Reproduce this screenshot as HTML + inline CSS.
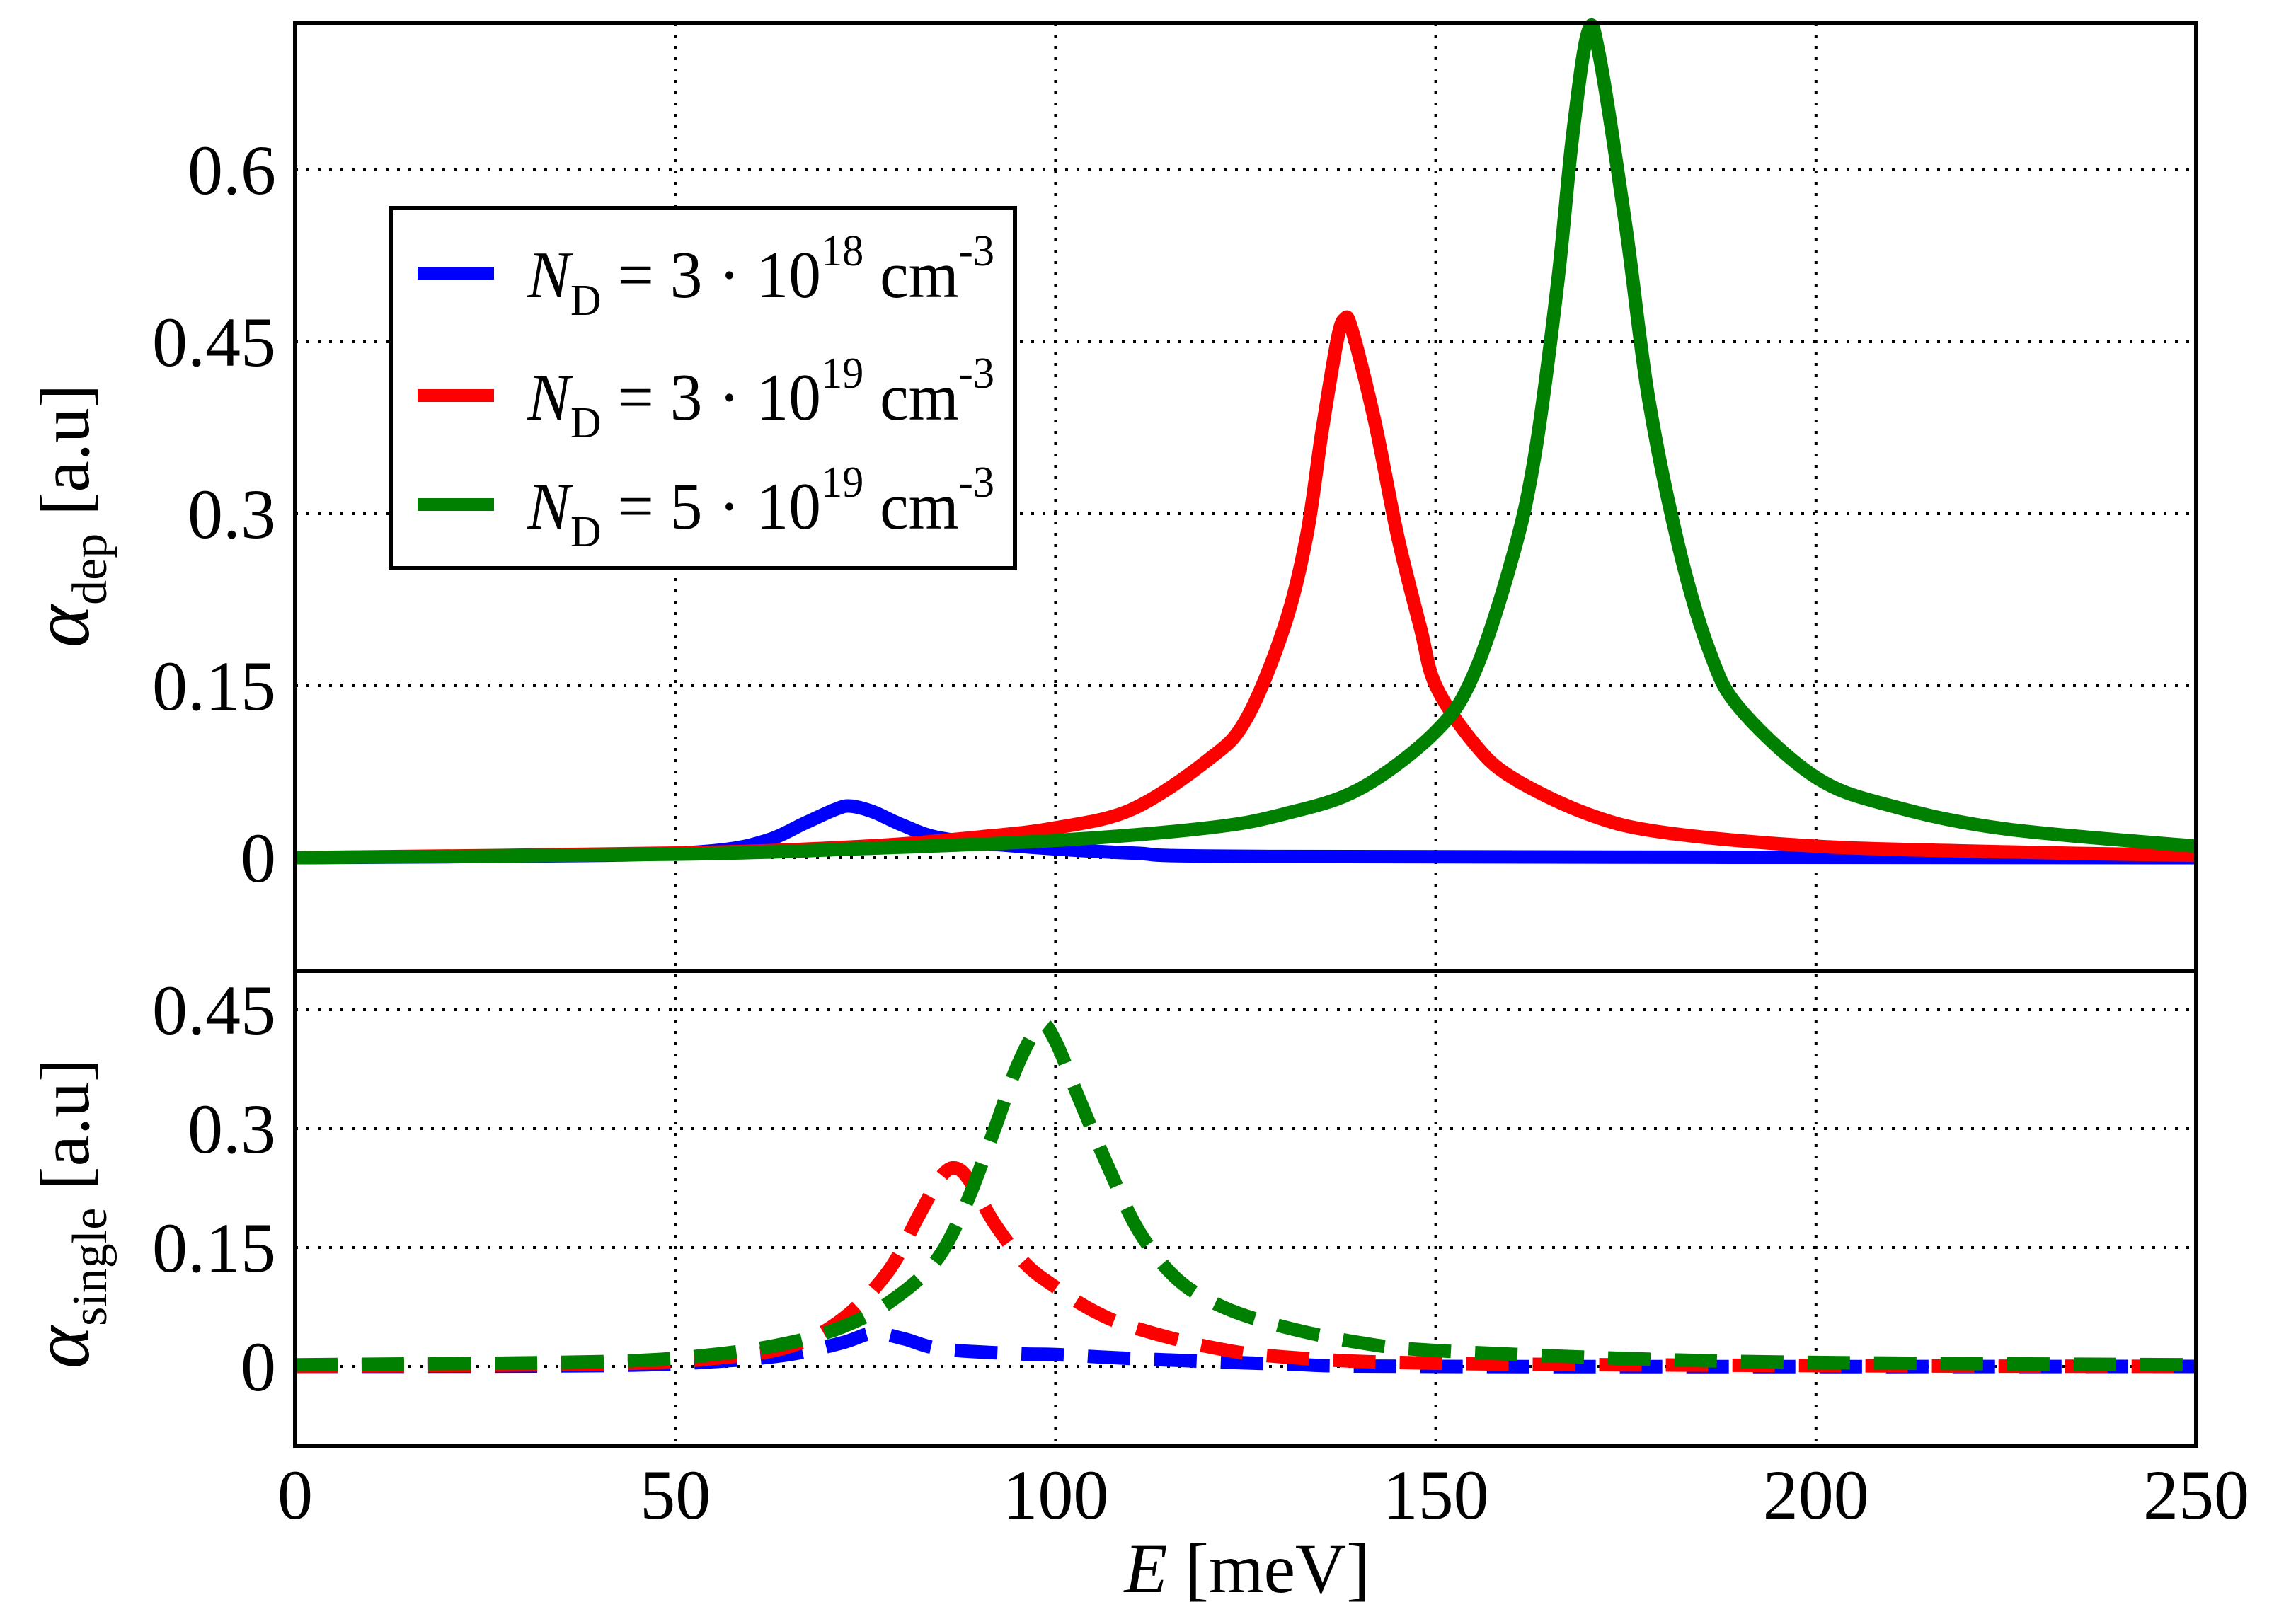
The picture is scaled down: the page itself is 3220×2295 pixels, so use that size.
<!DOCTYPE html>
<html><head><meta charset="utf-8"><style>
html,body{margin:0;padding:0;background:#fff}
svg{display:block}
text{font-family:"Liberation Serif",serif;fill:#000}
</style></head><body>
<svg id="chart" width="3220" height="2295" viewBox="0 0 3220 2295" xmlns="http://www.w3.org/2000/svg">
<g id="grid"></g>
<g id="series"></g>
<g id="axes"></g>
<g id="labels"></g>
</svg>
<script>
// ---- data ----
const xTicks = [0, 50, 100, 150, 200, 250];
const topYTicks = [0, 0.15, 0.3, 0.45, 0.6];
const topYTickLabels = ["0", "0.15", "0.3", "0.45", "0.6"];
const botYTicks = [0, 0.15, 0.3, 0.45];
const botYTickLabels = ["0", "0.15", "0.3", "0.45"];

const depBlueE = [0, 40, 55, 62, 67, 71, 73, 76, 80, 85, 95, 110, 130, 250];
const depBlueV = [0, 0.002, 0.006, 0.015, 0.03, 0.042, 0.045, 0.04, 0.028, 0.017, 0.01, 0.004, 0.001, 0];
const depRedE = [0, 50, 75, 90, 100, 110, 120, 125, 130, 133, 135, 137, 138, 139, 142, 145, 148, 150, 155, 160, 170, 180, 200, 225, 250];
const depRedV = [0, 0.004, 0.01, 0.018, 0.026, 0.042, 0.085, 0.12, 0.2, 0.28, 0.37, 0.45, 0.47, 0.46, 0.38, 0.28, 0.2, 0.15, 0.1, 0.07, 0.038, 0.022, 0.01, 0.005, 0.002];
const depGreenE = [0, 50, 75, 100, 120, 130, 140, 150, 155, 160, 163, 166, 168, 170, 171.5, 175, 178, 182, 186, 190, 200, 210, 225, 250];
const depGreenV = [0, 0.003, 0.008, 0.015, 0.026, 0.038, 0.06, 0.11, 0.16, 0.26, 0.35, 0.5, 0.63, 0.72, 0.7, 0.55, 0.4, 0.27, 0.18, 0.13, 0.07, 0.045, 0.025, 0.01];

const sinBlueE = [0, 40, 55, 65, 72, 76, 80, 85, 95, 100, 110, 130, 150, 250];
const sinBlueV = [0, 0.001, 0.006, 0.015, 0.03, 0.042, 0.035, 0.022, 0.016, 0.015, 0.01, 0.003, 0, 0];
const sinRedE = [0, 40, 55, 65, 72, 78, 82, 85, 87, 89, 92, 96, 100, 105, 110, 120, 130, 150, 200, 250];
const sinRedV = [0, 0.003, 0.01, 0.025, 0.06, 0.12, 0.19, 0.24, 0.25, 0.23, 0.18, 0.13, 0.1, 0.07, 0.05, 0.025, 0.012, 0.004, 0.001, 0];
const sinGreenE = [0, 40, 55, 65, 72, 78, 84, 88, 92, 95, 98, 100, 103, 107, 111, 116, 122, 130, 140, 150, 175, 200, 250];
const sinGreenV = [0.002, 0.006, 0.015, 0.03, 0.05, 0.08, 0.13, 0.2, 0.3, 0.38, 0.43, 0.41, 0.34, 0.25, 0.17, 0.11, 0.075, 0.05, 0.03, 0.02, 0.01, 0.005, 0.002];

// ---- layout ----
const L = 417, R = 3103, T = 33, MID = 1372, B = 2043;
const NS = "http://www.w3.org/2000/svg";
const xs = e => L + (e - 0) / 250 * (R - L);
const yTop = v => 1212 - v / 0.15 * 243;
const yBot = v => 1931 - v / 0.15 * 168;
function mk(tag, attrs, parent) {
  const el = document.createElementNS(NS, tag);
  for (const k in attrs) el.setAttribute(k, attrs[k]);
  parent.appendChild(el);
  return el;
}
const grid = document.getElementById('grid');
const series = document.getElementById('series');
const axes = document.getElementById('axes');
const labels = document.getElementById('labels');

xTicks.forEach(t => {
  if (t === 0 || t === 250) return;
  const l = mk('line', {x1: xs(t), x2: xs(t), y1: T, y2: B, stroke: '#000', 'stroke-width': 4, 'stroke-dasharray': '4 12'}, grid);
  
  
});
topYTicks.forEach(t => {
  const l = mk('line', {x1: L, x2: R, y1: yTop(t), y2: yTop(t), stroke: '#000', 'stroke-width': 4, 'stroke-dasharray': '4 12'}, grid);
  
  
});
botYTicks.forEach(t => {
  const l = mk('line', {x1: L, x2: R, y1: yBot(t), y2: yBot(t), stroke: '#000', 'stroke-width': 4, 'stroke-dasharray': '4 12'}, grid);
  
  
});

function path(E, V, ys, color, dashed, name) {
  const P = E.map((e, i) => [xs(e), ys(V[i])]);
  let d = 'M' + P[0][0].toFixed(1) + ' ' + P[0][1].toFixed(1);
  for (let i = 0; i < P.length - 1; i++) {
    const p0 = P[Math.max(0, i - 1)], p1 = P[i], p2 = P[i + 1], p3 = P[Math.min(P.length - 1, i + 2)];
    const c1x = p1[0] + (p2[0] - p0[0]) / 6, c1y = p1[1] + (p2[1] - p0[1]) / 6;
    const c2x = p2[0] - (p3[0] - p1[0]) / 6, c2y = p2[1] - (p3[1] - p1[1]) / 6;
    d += 'C' + c1x.toFixed(1) + ' ' + c1y.toFixed(1) + ' ' + c2x.toFixed(1) + ' ' + c2y.toFixed(1) + ' ' + p2[0].toFixed(1) + ' ' + p2[1].toFixed(1);
  }
  const attrs = {d: d, fill: 'none', stroke: color, 'stroke-width': 19, 'stroke-linejoin': 'round'};
  if (dashed) attrs['stroke-dasharray'] = '60 34';
  const p = mk('path', attrs, series);
  
  
}
path(depBlueE, depBlueV, yTop, '#0000ff', false, 'dep-series-3e18');
path(depRedE, depRedV, yTop, '#ff0000', false, 'dep-series-3e19');
path(depGreenE, depGreenV, yTop, '#008000', false, 'dep-series-5e19');
path(sinBlueE, sinBlueV, yBot, '#0000ff', true, 'single-series-3e18');
path(sinRedE, sinRedV, yBot, '#ff0000', true, 'single-series-3e19');
path(sinGreenE, sinGreenV, yBot, '#008000', true, 'single-series-5e19');

const f1 = mk('rect', {x: L, y: T, width: R - L, height: MID - T, fill: 'none', stroke: '#000', 'stroke-width': 6}, axes);


const f2 = mk('rect', {x: L, y: MID, width: R - L, height: B - MID, fill: 'none', stroke: '#000', 'stroke-width': 6}, axes);



topYTicks.forEach((t, i) => {
  const tx = mk('text', {x: 390, y: yTop(t) + 34, 'font-size': 100, 'text-anchor': 'end'}, labels);
  tx.textContent = topYTickLabels[i];
  
  
});
botYTicks.forEach((t, i) => {
  const tx = mk('text', {x: 390, y: yBot(t) + 34, 'font-size': 100, 'text-anchor': 'end'}, labels);
  tx.textContent = botYTickLabels[i];
  
  
});
xTicks.forEach(t => {
  const tx = mk('text', {x: xs(t), y: 2146, 'font-size': 100, 'text-anchor': 'middle'}, labels);
  tx.textContent = String(t);
  
  
});
</script>
<svg x="0" y="0" width="3220" height="2295" style="position:absolute;left:0;top:0" viewBox="0 0 3220 2295">
<text x="1762" y="2250" font-size="100" text-anchor="middle"><tspan font-style="italic">E</tspan> [meV]</text>
<text transform="translate(125,729) rotate(-90)" font-size="100" text-anchor="middle"><tspan font-style="italic" font-size="115">α</tspan><tspan font-size="70" dy="25">dep</tspan><tspan dy="-25"> [a.u]</tspan></text>
<text transform="translate(125,1715) rotate(-90)" font-size="100" text-anchor="middle"><tspan font-style="italic" font-size="115">α</tspan><tspan font-size="70" dy="25">single</tspan><tspan dy="-25"> [a.u]</tspan></text>
<rect x="552" y="294" width="882" height="509" fill="#fff" stroke="#000" stroke-width="6"/>
<g>
<line x1="590" x2="698" y1="386" y2="386" stroke="#0000ff" stroke-width="18"/>
<text x="745" y="420" font-size="94" textLength="660" lengthAdjust="spacingAndGlyphs"><tspan font-style="italic">N</tspan><tspan font-size="62" dy="25">D</tspan><tspan dy="-25"> = 3 · 10</tspan><tspan font-size="62" dy="-45">18</tspan><tspan dy="45"> cm</tspan><tspan font-size="62" dy="-45">-3</tspan></text>
</g>
<g>
<line x1="590" x2="698" y1="559" y2="559" stroke="#ff0000" stroke-width="18"/>
<text x="745" y="593" font-size="94" textLength="660" lengthAdjust="spacingAndGlyphs"><tspan font-style="italic">N</tspan><tspan font-size="62" dy="25">D</tspan><tspan dy="-25"> = 3 · 10</tspan><tspan font-size="62" dy="-45">19</tspan><tspan dy="45"> cm</tspan><tspan font-size="62" dy="-45">-3</tspan></text>
</g>
<g>
<line x1="590" x2="698" y1="713" y2="713" stroke="#008000" stroke-width="18"/>
<text x="745" y="747" font-size="94" textLength="660" lengthAdjust="spacingAndGlyphs"><tspan font-style="italic">N</tspan><tspan font-size="62" dy="25">D</tspan><tspan dy="-25"> = 5 · 10</tspan><tspan font-size="62" dy="-45">19</tspan><tspan dy="45"> cm</tspan><tspan font-size="62" dy="-45">-3</tspan></text>
</g>
</svg>
</body></html>
